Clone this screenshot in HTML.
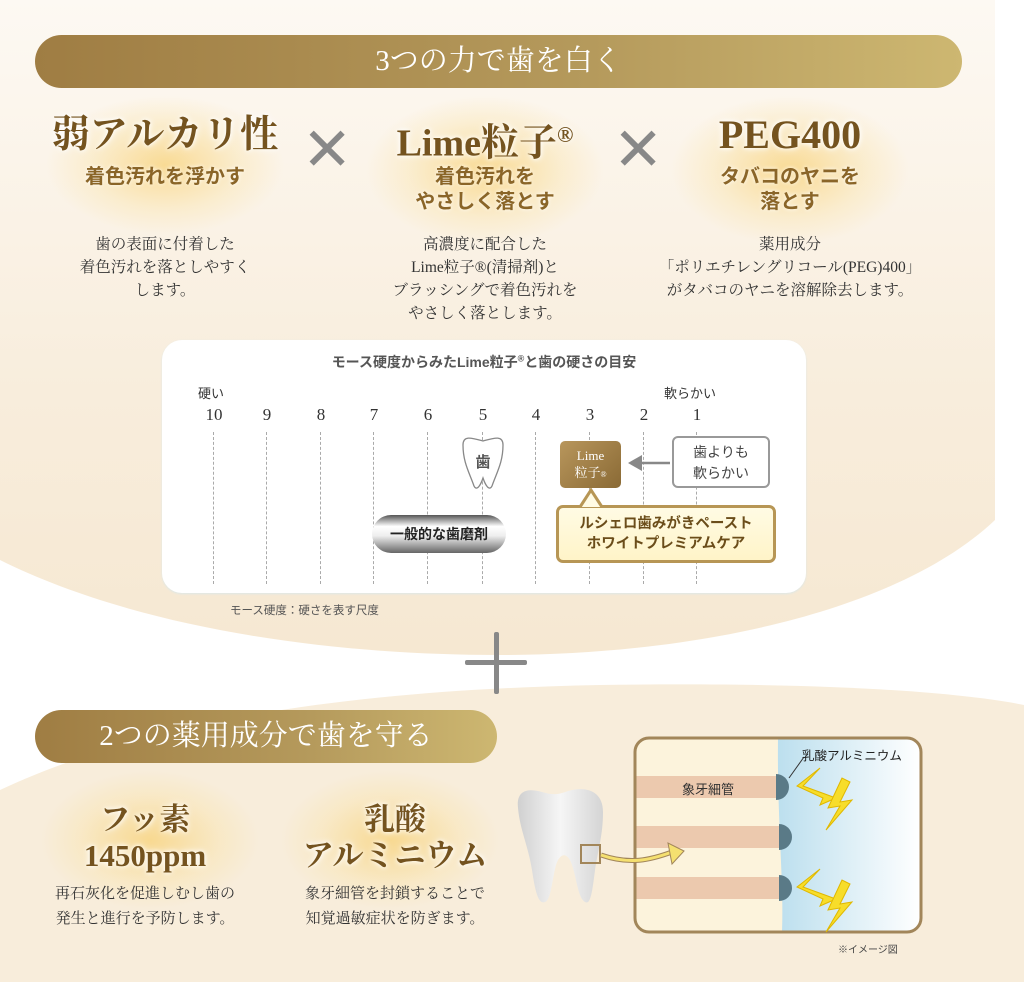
<!DOCTYPE html>
<html style="overflow:hidden;height:982px"><head><meta charset="utf-8"><style>
body{margin:0;width:1024px;height:982px;position:relative;overflow:hidden;background:#fff;font-family:"Liberation Sans","Noto Sans CJK JP",sans-serif;}
.a{position:absolute}
.pill{position:absolute;border-radius:27px;background:linear-gradient(90deg,#9f7d43,#b59a5c 60%,#cdb771);color:#fff;text-align:center;font-family:"Liberation Serif","Noto Serif CJK SC",serif;font-size:29px;}
.glow{position:absolute;border-radius:50%;background:radial-gradient(ellipse at center,rgba(248,210,120,.75),rgba(250,225,160,.35) 45%,rgba(255,240,210,0) 70%)}
.h{position:absolute;text-align:center;color:#74531f;font-weight:bold;font-family:"Liberation Serif","Noto Serif CJK SC",serif;text-shadow:0 0 4px #fff,0 0 8px #fff}
.sub{position:absolute;text-align:center;color:#8a6528;font-weight:bold;font-size:20px;line-height:25px;text-shadow:0 0 4px #fff}
.d{position:absolute;text-align:center;color:#333;font-size:15.5px;line-height:23px;font-family:"Liberation Serif","Noto Serif CJK SC",serif}
.x{position:absolute;color:#888;font-size:60px;line-height:60px;font-weight:300}
.num{position:absolute;top:405px;width:30px;margin-left:-15px;text-align:center;font-size:17px;color:#333;font-family:"Liberation Serif",serif}
.dash{position:absolute;top:432px;height:152px;border-left:1.5px dashed #aaa}
</style></head><body>
<svg class="a" style="left:0;top:0" width="1024" height="982">
<defs><linearGradient id="tg" x1="0" y1="0" x2="0" y2="1"><stop offset="0" stop-color="#fdf9f3"/><stop offset=".6" stop-color="#f8eddc"/><stop offset="1" stop-color="#f6e8d2"/></linearGradient></defs>
<path d="M0,0 L995,0 L995,520 C900,610 700,655 500,655 C300,655 120,620 0,560Z" fill="url(#tg)"/>
<path d="M0,790 C150,720 350,690 600,685 C800,682 950,690 1024,705 L1024,982 L0,982Z" fill="#f8eddb"/>
</svg>

<div class="pill" style="left:35px;top:35px;width:927px;height:53px;line-height:53px">3つの力で歯を白く</div>

<div class="glow" style="left:45px;top:95px;width:240px;height:140px"></div>
<div class="glow" style="left:365px;top:95px;width:240px;height:150px"></div>
<div class="glow" style="left:670px;top:95px;width:240px;height:150px"></div>

<div class="h" style="left:40px;top:112px;width:250px;font-size:38px;line-height:46px">弱アルカリ性</div>
<div class="sub" style="left:40px;top:165px;width:250px">着色汚れを浮かす</div>
<div class="x" style="left:302px;top:120px">✕</div>
<div class="h" style="left:355px;top:112px;width:260px;font-size:38px;line-height:46px">Lime粒子<sup style="font-size:22px">®</sup></div>
<div class="sub" style="left:360px;top:165px;width:250px">着色汚れを<br>やさしく落とす</div>
<div class="x" style="left:613px;top:120px">✕</div>
<div class="h" style="left:665px;top:112px;width:250px;font-size:40px;line-height:46px">PEG400</div>
<div class="sub" style="left:665px;top:165px;width:250px">タバコのヤニを<br>落とす</div>

<div class="d" style="left:40px;top:233px;width:250px">歯の表面に付着した<br>着色汚れを落としやすく<br>します。</div>
<div class="d" style="left:345px;top:233px;width:280px">高濃度に配合した<br>Lime粒子®(清掃剤)と<br>ブラッシングで着色汚れを<br>やさしく落とします。</div>
<div class="d" style="left:610px;top:233px;width:360px">薬用成分<br>「ポリエチレングリコール(PEG)400」<br>がタバコのヤニを溶解除去します。</div>

<!-- chart -->
<div class="a" style="left:162px;top:340px;width:644px;height:253px;background:#fff;border-radius:20px;box-shadow:0 1px 2px #dde8e8"></div>
<div class="a" style="left:162px;top:352px;width:644px;text-align:center;font-size:14px;font-weight:bold;color:#555">モース硬度からみたLime粒子<sup style="font-size:9px">®</sup>と歯の硬さの目安</div>
<div class="a" style="left:198px;top:383px;font-size:13px;color:#333">硬い</div>
<div class="a" style="left:664px;top:383px;font-size:13px;color:#333">軟らかい</div>
<div class="num" style="left:214px">10</div><div class="num" style="left:267px">9</div><div class="num" style="left:321px">8</div><div class="num" style="left:374px">7</div><div class="num" style="left:428px">6</div><div class="num" style="left:483px">5</div><div class="num" style="left:536px">4</div><div class="num" style="left:590px">3</div><div class="num" style="left:644px">2</div><div class="num" style="left:697px">1</div>
<div class="dash" style="left:213px"></div><div class="dash" style="left:266px"></div><div class="dash" style="left:320px"></div><div class="dash" style="left:373px"></div><div class="dash" style="left:427px"></div><div class="dash" style="left:482px"></div><div class="dash" style="left:535px"></div><div class="dash" style="left:589px"></div><div class="dash" style="left:643px"></div><div class="dash" style="left:696px"></div>

<svg class="a" style="left:0;top:0" width="1024" height="982">
<path d="M463,445 C463,435 472,438 483,441 C494,438 503,435 503,445 C503,462 497,472 492,486 C489,492 485,484 483,478 C481,484 477,492 474,486 C469,472 463,462 463,445Z" fill="#fff" stroke="#888" stroke-width="1.3"/>
<line x1="670" y1="463" x2="640" y2="463" stroke="#888" stroke-width="2.5"/>
<path d="M628,463 L642,455 L642,471Z" fill="#888"/>
</svg>
<div class="a" style="left:463px;top:451px;width:40px;text-align:center;font-size:15px;font-weight:bold;color:#555">歯</div>
<div class="a" style="left:672px;top:436px;width:98px;height:52px;border:2px solid #999;border-radius:6px;background:#fff;text-align:center;font-size:14px;line-height:21px;color:#444;padding-top:4px;box-sizing:border-box">歯よりも<br>軟らかい</div>
<div class="a" style="left:560px;top:441px;width:61px;height:47px;border-radius:5px;background:linear-gradient(135deg,#b8965c,#8a6a35);color:#fff;text-align:center;font-size:13px;line-height:17px;padding-top:6px;box-sizing:border-box;font-family:'Liberation Serif','Noto Serif CJK SC',serif">Lime<br>粒子<span style="font-size:8px">®</span></div>
<div class="a" style="left:556px;top:505px;width:220px;height:58px;border:3px solid #b79655;border-radius:7px;background:linear-gradient(#fffbe4,#fff4c8);box-sizing:border-box;text-align:center;font-size:14.5px;font-weight:bold;line-height:20px;color:#6b4d1a;padding-top:6px">ルシェロ歯みがきペースト<br>ホワイトプレミアムケア</div>
<svg class="a" style="left:578px;top:488px" width="30" height="20"><path d="M2,19 L13,2 L24,19" fill="#fffbe4" stroke="#b79655" stroke-width="3"/></svg>
<div class="a" style="left:372px;top:515px;width:134px;height:38px;border-radius:19px;background:linear-gradient(#555,#fff 30%,#eee 55%,#666);text-align:center;line-height:38px;font-size:14px;font-weight:bold;color:#222">一般的な歯磨剤</div>
<div class="a" style="left:230px;top:602px;font-size:11.5px;color:#555">モース硬度：硬さを表す尺度</div>

<!-- plus -->
<div class="a" style="left:465px;top:660px;width:62px;height:5px;background:#888;border-radius:2px"></div>
<div class="a" style="left:494px;top:632px;width:5px;height:62px;background:#888;border-radius:2px"></div>

<div class="pill" style="left:35px;top:710px;width:462px;height:53px;line-height:53px">2つの薬用成分で歯を守る</div>
<div class="glow" style="left:40px;top:770px;width:220px;height:140px"></div>
<div class="glow" style="left:280px;top:770px;width:220px;height:140px"></div>
<div class="h" style="left:30px;top:802px;width:230px;font-size:31px;line-height:36px">フッ素<br>1450ppm</div>
<div class="h" style="left:280px;top:802px;width:230px;font-size:31px;line-height:36px">乳酸<br>アルミニウム</div>
<div class="d" style="left:15px;top:882px;width:260px;font-size:15px;line-height:25px">再石灰化を促進しむし歯の<br>発生と進行を予防します。</div>
<div class="d" style="left:270px;top:882px;width:250px;font-size:15px;line-height:25px">象牙細管を封鎖することで<br>知覚過敏症状を防ぎます。</div>

<!-- diagram -->
<svg class="a" style="left:0;top:0" width="1024" height="982">
<defs><linearGradient id="bl" x1="0" x2="1"><stop offset="0" stop-color="#bcdfee"/><stop offset="1" stop-color="#fff"/></linearGradient>
<linearGradient id="th" x1="0" x2="1"><stop offset="0" stop-color="#d0d0d0"/><stop offset=".5" stop-color="#f6f6f6"/><stop offset="1" stop-color="#d4d4d4"/></linearGradient></defs>
<path d="M518,808 C516,790 528,788 542,792 C552,795 558,795 568,791 C585,786 603,790 603,812 C603,835 598,850 595,870 C592,895 590,905 585,902 C578,898 577,880 572,865 C568,852 560,852 556,865 C552,880 551,900 545,902 C538,905 535,890 532,870 C528,845 520,830 518,808Z" fill="url(#th)"/>
<rect x="635" y="738" width="286" height="194" rx="14" fill="#fcf3dc"/>
<path d="M778,738 L907,738 Q921,738 921,752 L921,918 Q921,932 907,932 L782,932 C784,880 777,820 778,738Z" fill="url(#bl)"/>
<rect x="635" y="776" width="142" height="22" fill="#ecc9ae"/>
<rect x="635" y="826" width="144" height="22" fill="#ecc9ae"/>
<rect x="635" y="877" width="144" height="22" fill="#ecc9ae"/>
<path d="M776,774 a13,13 0 0 1 0,26Z" fill="#5a7a87"/>
<path d="M779,824 a13,13 0 0 1 0,26Z" fill="#5a7a87"/>
<path d="M779,875 a13,13 0 0 1 0,26Z" fill="#5a7a87"/>
<line x1="789" y1="778" x2="804" y2="757" stroke="#333" stroke-width="1"/>
<rect x="635" y="738" width="286" height="194" rx="14" fill="none" stroke="#a2865a" stroke-width="3"/>
<rect x="581" y="845" width="19" height="18" fill="none" stroke="#a2865a" stroke-width="2"/>
<path d="M601,855 C630,865 650,860 672,852" fill="none" stroke="#a2865a" stroke-width="5"/>
<path d="M601,855 C630,865 650,860 672,852" fill="none" stroke="#f5e070" stroke-width="3"/>
<path d="M684,851 L668,843 L672,864Z" fill="#f5e070" stroke="#a2865a" stroke-width="1"/>
<g fill="#f7dd2a" stroke="#e0b800" stroke-width="1">
<path d="M820,768 L797,786 L823,798 L820,805 L836,798 L825,794 L803,786Z"/>
<path d="M842,778 L828,808 L840,806 L826,830 L852,800 L840,802 L850,782Z"/>
<path d="M820,869 L797,887 L823,899 L820,906 L836,899 L825,895 L803,887Z"/>
<path d="M842,880 L828,910 L840,908 L826,932 L852,902 L840,904 L850,884Z"/>
</g>
</svg>
<div class="a" style="left:682px;top:779px;font-size:13px;color:#333">象牙細管</div>
<div class="a" style="left:802px;top:745px;font-size:12.5px;color:#222">乳酸アルミニウム</div>
<div class="a" style="left:838px;top:941px;font-size:10px;color:#444">※イメージ図</div>
</body></html>
